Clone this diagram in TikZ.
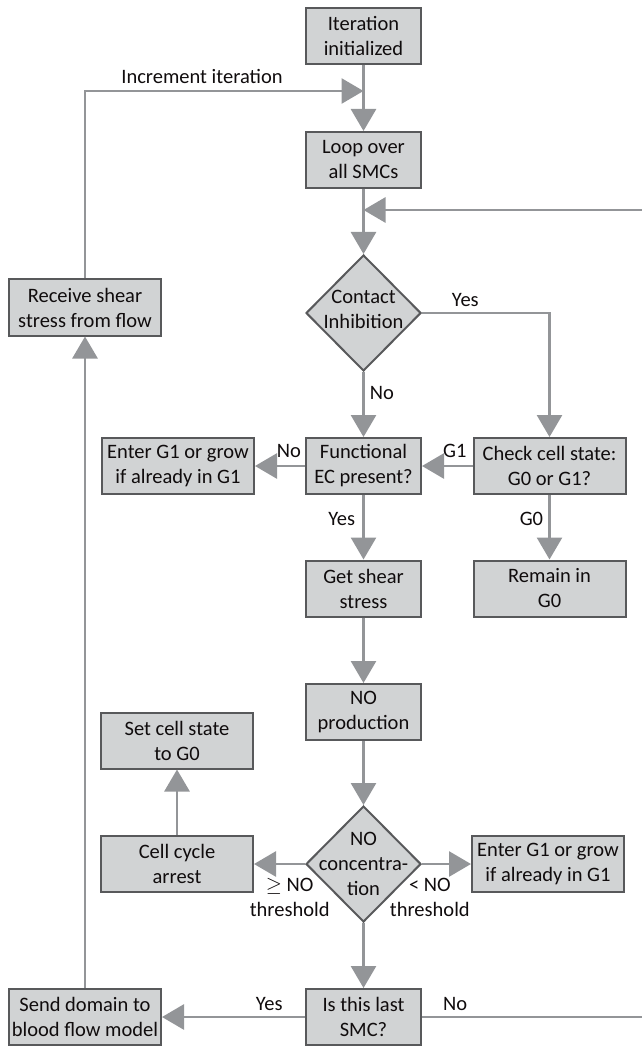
\documentclass[tikz,border=0pt]{standalone}
\usepackage{fontspec}
\setmainfont{Carlito}
\usepackage{tikz}
\usetikzlibrary{shapes.geometric,arrows.meta}
\definecolor{boxfill}{HTML}{D1D3D4}
\definecolor{boxline}{HTML}{58595B}
\definecolor{flowgray}{HTML}{939598}
\definecolor{txtgray}{HTML}{100C0D}

\begin{document}
\begin{tikzpicture}[x=1pt, y=-1pt, every node/.style={font=\fontsize{20.5}{25}\selectfont, text=txtgray, align=center},%
        box/.style={draw=boxline, line width=2pt, fill=boxfill, rectangle, inner sep=0pt, minimum height=56pt},
        narrow/.style={box, minimum width=115pt}, wide/.style={box, minimum width=152pt},
        dia/.style={draw=boxline, line width=2pt, fill=boxfill, diamond, inner sep=0pt, minimum width=115pt, minimum height=116pt},
        lbl/.style={inner sep=1pt},
        conn/.style={draw=flowgray, line width=2.8pt}, flow/.style={conn, -{Triangle[length=22pt,width=25pt]}}]
        \useasboundingbox (0,0) rectangle (641,1048);

        \node[narrow] (init) at (363.5,36) {Iteration\\initialized};
        \node[narrow] (loop) at (363.5,160) {Loop over\\all SMCs};
        \node[dia, label={[yshift=4pt]center:Contact\\Inhibition}] (contact) at (363.5,313) {};
        \node[narrow] (func) at (363.5,466) {Functional\\EC present?};
        \node[wide] (check) at (549.5,466) {Check cell state:\\G0 or G1?};
        \node[wide] (enterA) at (178,466) {Enter G1 or grow\\if already in G1};
        \node[narrow] (shear) at (363.5,588.5) {Get shear\\stress};
        \node[wide] (remain) at (549.5,588.5) {Remain in\\G0};
        \node[narrow] (noprod) at (363.5,712) {NO\\production};
        \node[wide] (setgo) at (177,740.5) {Set cell state\\to G0};
        \node[wide] (arrest) at (177,864) {Cell cycle\\arrest};
        \node[dia, label={center:NO\\concentra-\\tion}] (conc) at (363.5,864) {};
        \node[wide] (enterB) at (548,864) {Enter G1 or grow\\if already in G1};
        \node[narrow] (last) at (363.5,1017) {Is this last\\SMC?};
        \node[wide] (send) at (85,1017) {Send domain to\\blood flow model};
        \node[wide] (receive) at (85,307.5) {Receive shear\\stress from flow};

        \coordinate (inc) at (363.5,91);
        \coordinate (back) at (363.5,210);

        \draw[flow] (init) -- (loop);
        \draw[flow] (loop) -- (contact);
        \draw[flow] (contact) -- node[lbl, pos=0.32, right=4pt] {No} (func);
        \draw[flow] (contact) -| node[lbl, pos=0.17, above=4pt] {Yes} (check);
        \draw[flow] (check) -- node[lbl, pos=0.35, above=6pt] {G1} (func);
        \draw[flow] (func) -- node[lbl, pos=0.32, above=6pt] {No} (enterA);
        \draw[flow] (func) -- node[lbl, pos=0.375, left=6pt] {Yes} (shear);
        \draw[flow] (check) -- node[lbl, pos=0.375, left=4pt] {G0} (remain);
        \draw[flow] (shear) -- (noprod);
        \draw[flow] (noprod) -- (conc);
        \draw[flow] (conc) -- node[lbl, pos=0.3, below=12pt] {$\geq$ NO\\threshold} (arrest);
        \draw[flow] (conc) -- node[lbl, pos=0.16, below=12pt] {< NO\\threshold} (enterB);
        \draw[flow] (arrest) -- (setgo);
        \draw[flow] (conc) -- (last);
        \draw[flow] (last) -- node[lbl, pos=0.25, above=4pt] {Yes} (send);
        \draw[flow] (last) -- node[lbl, pos=0.145, above=4pt] {No} (650,1017) |- (back);
        \draw[flow] (send) -- (receive);
        \draw[flow] (receive) -- (receive |- inc) -- node[lbl, pos=0.42, above=5pt] {Increment iteration} (inc);
    \end{tikzpicture}
\end{document}
